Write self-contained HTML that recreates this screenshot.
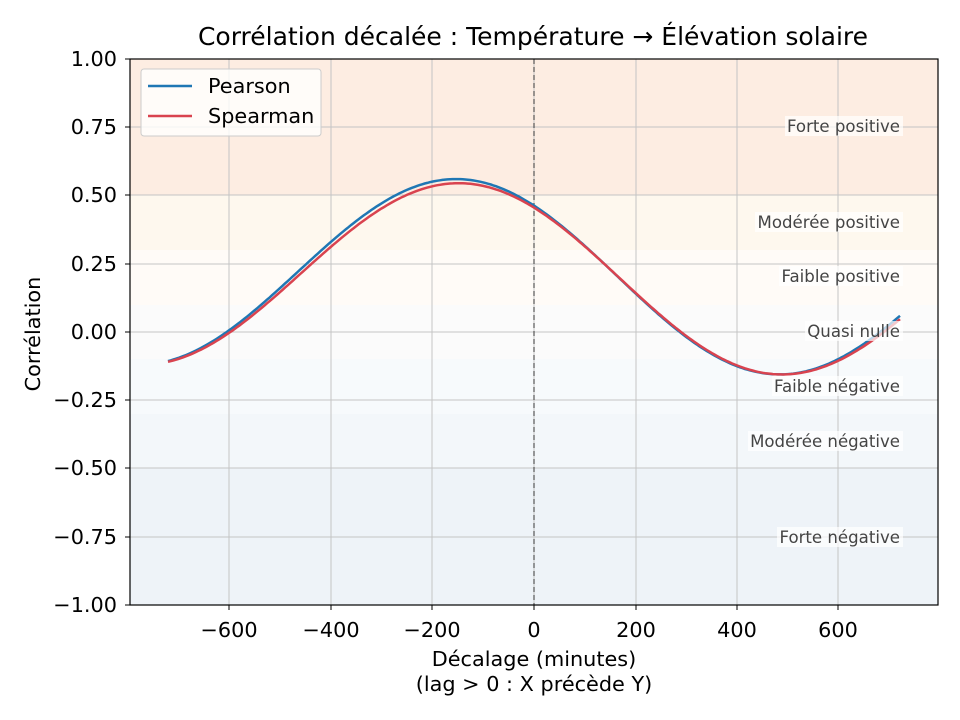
<!DOCTYPE html>
<html><head><meta charset="utf-8"><style>
body{margin:0;background:#fff;}
svg{display:block;font-family:"DejaVu Sans","Liberation Sans",sans-serif;}
</style></head><body>
<svg id="s" width="960" height="720" viewBox="0 0 960 720">
<rect x="130" y="59" width="808" height="136" fill="#fdede2"/>
<rect x="130" y="195" width="808" height="55" fill="#fef8ee"/>
<rect x="130" y="250" width="808" height="55" fill="#fffbf7"/>
<rect x="130" y="305" width="808" height="54" fill="#fbfbfb"/>
<rect x="130" y="359" width="808" height="55" fill="#f7fafc"/>
<rect x="130" y="414" width="808" height="54" fill="#f3f7fa"/>
<rect x="130" y="468" width="808" height="137" fill="#eef3f8"/>
<g stroke="#c4c4c4" stroke-width="1">
<line x1="229" y1="59" x2="229" y2="605"/><line x1="331" y1="59" x2="331" y2="605"/><line x1="432" y1="59" x2="432" y2="605"/><line x1="534" y1="59" x2="534" y2="605"/><line x1="636" y1="59" x2="636" y2="605"/><line x1="737" y1="59" x2="737" y2="605"/><line x1="838" y1="59" x2="838" y2="605"/>
<line x1="130" y1="127" x2="938" y2="127"/><line x1="130" y1="195" x2="938" y2="195"/><line x1="130" y1="264" x2="938" y2="264"/><line x1="130" y1="332" x2="938" y2="332"/><line x1="130" y1="400" x2="938" y2="400"/><line x1="130" y1="468" x2="938" y2="468"/><line x1="130" y1="537" x2="938" y2="537"/>
</g>
<line x1="534" y1="59" x2="534" y2="605" stroke="#555" stroke-dasharray="5,3" stroke-width="1.2"/>
<path id="p" fill="none" stroke="#1f77b4" stroke-width="2.5"/>
<path id="q" fill="none" stroke="#d9434f" stroke-width="2.5"/>
<g font-size="16.6" fill="#444" text-anchor="end">
<g fill="#fff" fill-opacity="0.7"><rect x="785" y="116" width="118" height="20"/><rect x="755" y="212" width="148" height="20"/><rect x="779" y="266" width="124" height="20"/><rect x="805" y="321" width="98" height="20"/><rect x="772" y="376" width="131" height="20"/><rect x="748" y="431" width="155" height="20"/><rect x="777" y="527" width="126" height="20"/></g>
<text x="900" y="132">Forte positive</text><text x="900" y="228">Modérée positive</text><text x="900" y="282">Faible positive</text><text x="900" y="337">Quasi nulle</text><text x="900" y="392">Faible négative</text><text x="900" y="447">Modérée négative</text><text x="900" y="543">Forte négative</text>
</g>
<rect x="130" y="59" width="808" height="546" fill="none" stroke="#000" stroke-width="1.2"/>
<g stroke="#000"><line x1="229" y1="605" x2="229" y2="610"/><line x1="331" y1="605" x2="331" y2="610"/><line x1="432" y1="605" x2="432" y2="610"/><line x1="534" y1="605" x2="534" y2="610"/><line x1="636" y1="605" x2="636" y2="610"/><line x1="737" y1="605" x2="737" y2="610"/><line x1="838" y1="605" x2="838" y2="610"/>
<line x1="125" y1="59" x2="130" y2="59"/><line x1="125" y1="127" x2="130" y2="127"/><line x1="125" y1="195" x2="130" y2="195"/><line x1="125" y1="264" x2="130" y2="264"/><line x1="125" y1="332" x2="130" y2="332"/><line x1="125" y1="400" x2="130" y2="400"/><line x1="125" y1="468" x2="130" y2="468"/><line x1="125" y1="537" x2="130" y2="537"/><line x1="125" y1="605" x2="130" y2="605"/></g>
<g font-size="20.8" fill="#000" text-anchor="middle">
<text x="229" y="637">−600</text><text x="331" y="637">−400</text><text x="432" y="637">−200</text><text x="534" y="637">0</text><text x="636" y="637">200</text><text x="737" y="637">400</text><text x="838" y="637">600</text>
<text x="534" y="666">Décalage (minutes)</text><text x="534" y="691">(lag &gt; 0 : X précède Y)</text>
<text x="533" y="45" font-size="25">Corrélation décalée : Température → Élévation solaire</text>
<text transform="translate(40,334) rotate(-90)">Corrélation</text>
</g>
<g font-size="20.8" fill="#000" text-anchor="end">
<text x="117" y="66">1.00</text><text x="117" y="134">0.75</text><text x="117" y="202">0.50</text><text x="117" y="271">0.25</text><text x="117" y="339">0.00</text><text x="117" y="407">−0.25</text><text x="117" y="475">−0.50</text><text x="117" y="544">−0.75</text><text x="117" y="612">−1.00</text>
</g>
<rect x="141" y="69" width="180" height="67" rx="3" fill="#fff" fill-opacity="0.8" stroke="#ccc"/>
<line x1="148" y1="86" x2="192" y2="86" stroke="#1f77b4" stroke-width="2.5"/>
<line x1="148" y1="116" x2="192" y2="116" stroke="#d9434f" stroke-width="2.5"/>
<text x="208" y="93" font-size="20.8">Pearson</text><text x="208" y="123" font-size="20.8">Spearman</text>
</svg>
<script>
function f(t,A,c,ph){return A*Math.cos(2*Math.PI*(t+ph)/1260)+c-0.02*t/720;}
function path(A,c,ph){var d="";for(var t=-720;t<=720;t+=5){var x=534+t*0.5083,y=332-f(t,A,c,ph)*273;d+=(t==-720?"M":"L")+x.toFixed(1)+","+y.toFixed(1);}return d;}
document.getElementById("p").setAttribute("d",path(0.349,0.207,150));
document.getElementById("q").setAttribute("d",path(0.3415,0.1995,145));
</script>
</body></html>
